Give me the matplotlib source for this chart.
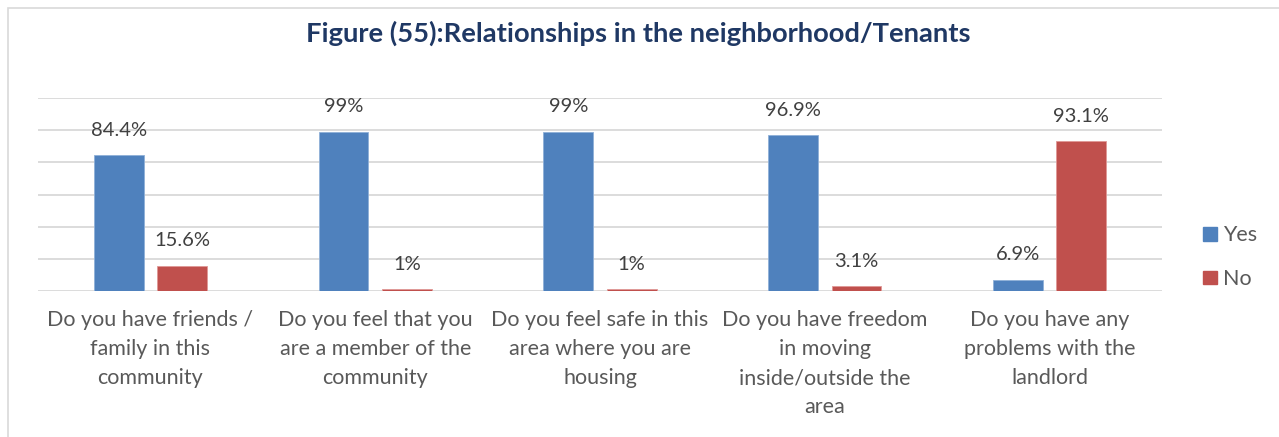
import matplotlib
matplotlib.use("Agg")
import matplotlib.pyplot as plt
import numpy as np
from matplotlib.patches import Rectangle

categories = [
    "Do you have friends /\nfamily in this\ncommunity",
    "Do you feel that you\nare a member of the\ncommunity",
    "Do you feel safe in this\narea where you are\nhousing",
    "Do you have freedom\nin moving\ninside/outside the\narea",
    "Do you have any\nproblems with the\nlandlord",
]
yes_values = [84.4, 99, 99, 96.9, 6.9]
no_values = [15.6, 1, 1, 3.1, 93.1]
yes_labels = ["84.4%", "99%", "99%", "96.9%", "6.9%"]
no_labels = ["15.6%", "1%", "1%", "3.1%", "93.1%"]
series_names = ["Yes", "No"]

title_text = "Figure (55):Relationships in the neighborhood/Tenants"

BLUE = "#4F81BD"
RED = "#C0504D"
GRID = "#D9D9D9"
TEXT = "#595959"
VALUE_TEXT = "#404040"
TITLE = "#1F3864"
FONT = "Lato"

W, H = 1279, 437
fig = plt.figure(figsize=(W / 100, H / 100), dpi=100)
fig.patch.set_facecolor("white")

# light frame around the chart area
fig.patches.append(Rectangle((8 / W, -0.1), 1.2, (H - 8) / H + 0.1,
                             transform=fig.transFigure, fill=False,
                             edgecolor="#D9D9D9", linewidth=1.2))

left, right = 38, 1162
top, bottom = 98, 291
ax = fig.add_axes([left / W, 1 - bottom / H, (right - left) / W, (bottom - top) / H])

x = np.arange(len(categories))
bw = 0.222
off = 0.141
ax.bar(x - off, yes_values, bw, color=BLUE, edgecolor="#8FB0D8", linewidth=0.6, zorder=3, label=series_names[0])
ax.bar(x + off, no_values, bw, color=RED, edgecolor="#E09896", linewidth=0.6, zorder=3, label=series_names[1])

for xi, v, lab in zip(x - off, yes_values, yes_labels):
    ax.annotate(lab, (xi, v), xytext=(0, 18), textcoords="offset points",
                ha="center", va="center", fontsize=14.5, color=VALUE_TEXT, family=FONT)
for xi, v, lab in zip(x + off, no_values, no_labels):
    ax.annotate(lab, (xi, v), xytext=(0, 18), textcoords="offset points",
                ha="center", va="center", fontsize=14.5, color=VALUE_TEXT, family=FONT)

ax.set_xlim(-0.5, len(categories) - 0.5)
ax.set_ylim(0, 120)
ax.set_yticks(np.arange(0, 121, 20))
ax.set_yticklabels([])
ax.tick_params(axis="y", length=0)
ax.grid(axis="y", color=GRID, linewidth=1.3, zorder=0)
ax.set_axisbelow(True)
for s in ax.spines.values():
    s.set_visible(False)

ax.set_xticks(x)
ax.set_xticklabels(categories, fontsize=15.5, color=TEXT, family=FONT, linespacing=1.56, va="top")
ax.tick_params(axis="x", length=0, pad=14)

fig.text(638 / W, 1 - 33 / H, title_text, ha="center", va="center",
         fontsize=19.7, fontweight="bold", color=TITLE, family=FONT)

handles = [Rectangle((0, 0), 1, 1, color=BLUE), Rectangle((0, 0), 1, 1, color=RED)]
leg = fig.legend(handles, series_names, loc="upper left",
                 bbox_to_anchor=(1184 / W, 1 - 206 / H), frameon=False,
                 handlelength=0.62, handleheight=0.62, handletextpad=0.3,
                 labelspacing=1.1, prop={"family": FONT, "size": 15.5})
for t in leg.get_texts():
    t.set_color(TEXT)

fig.savefig("out.png", dpi=100, facecolor="white")
